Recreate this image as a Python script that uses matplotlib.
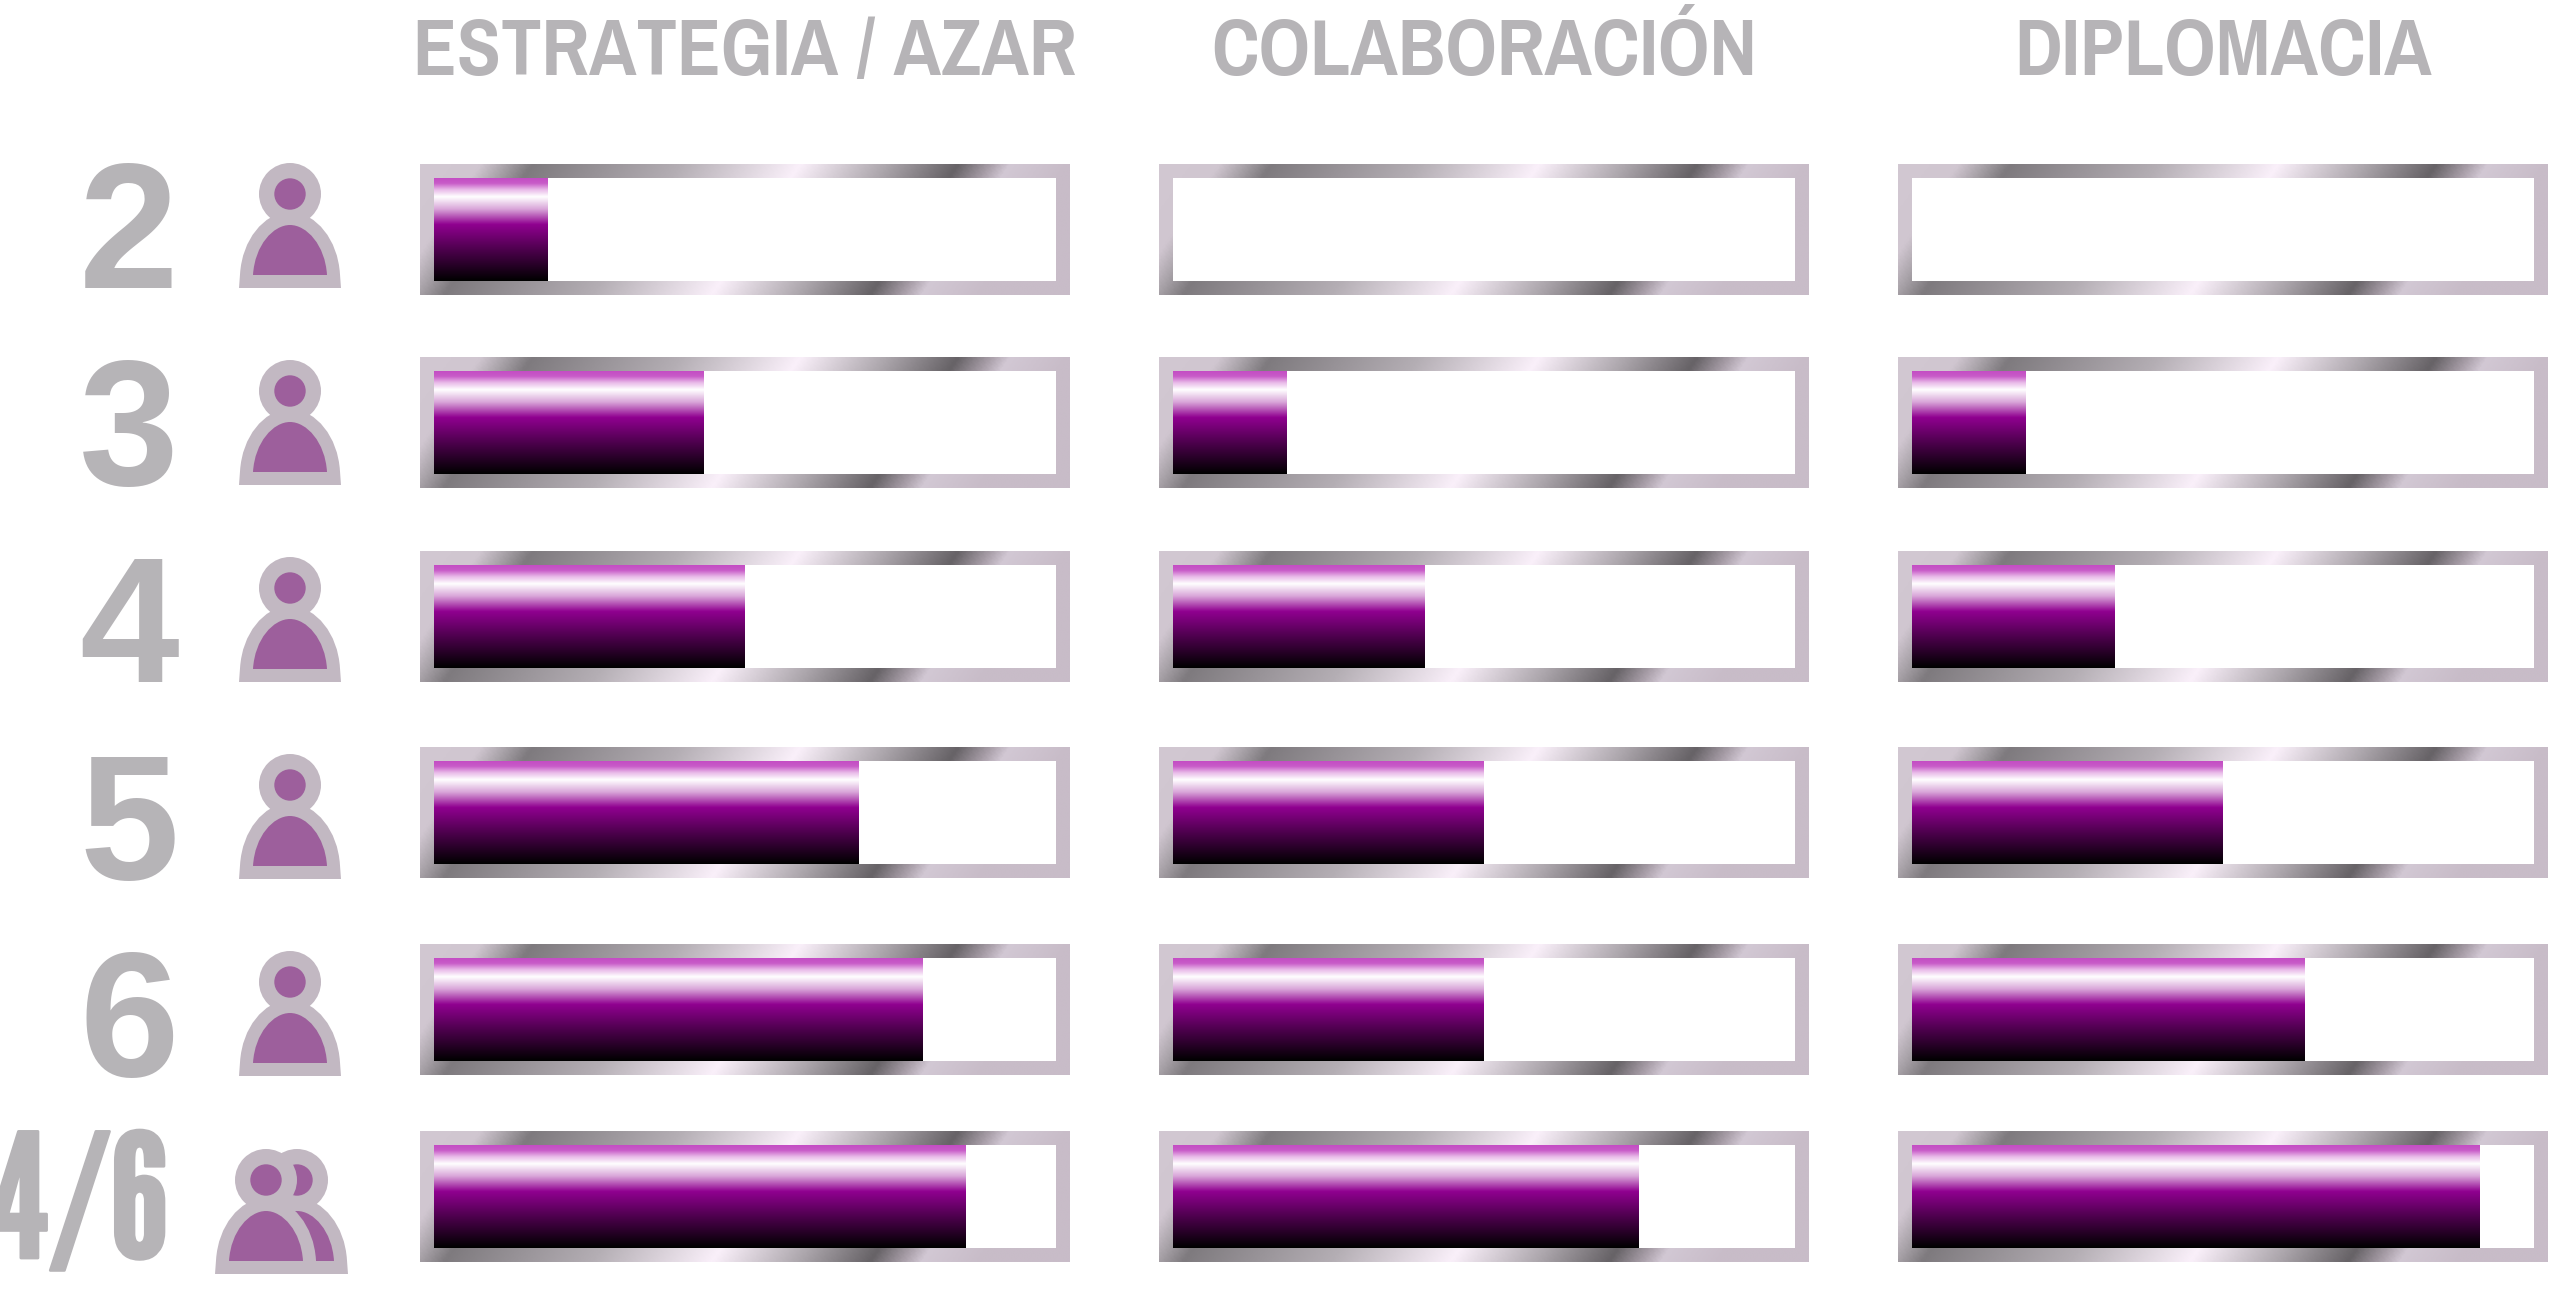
import numpy as np
import matplotlib
matplotlib.use("Agg")
import matplotlib.pyplot as plt
import matplotlib.patheffects as pe
from matplotlib.colors import LinearSegmentedColormap
from matplotlib.patches import Circle, PathPatch, Rectangle
from matplotlib.path import Path

headers = ["ESTRATEGIA / AZAR", "COLABORACIÓN", "DIPLOMACIA"]
players = ["2", "3", "4", "5", "6", "4/6"]
# percent of the bar length
estrategia = [18.2, 43.3, 49.9, 68.3, 78.6, 85.5]
colaboracion = [0, 18.2, 40.4, 49.9, 49.9, 74.9]
diplomacia = [0, 18.2, 32.5, 49.9, 63.1, 91.3]

W, H = 2570, 1295
GREY = "#b6b4b7"
OUTLINE = "#c2b8c2"
PURPLE = "#9d5f9c"
NARROW = ["Pragati Narrow", "Liberation Sans"]

col_left = [420, 1159, 1898]
frame_w = 650
row_top = [164, 357, 551, 747, 944, 1131]
icon_bottom = [288, 485, 682, 879, 1076]
frame_h = 131
border = 14

bar_cmap = LinearSegmentedColormap.from_list("bar", [
    (0, "#c44cc4"), (0.05, "#c85cc8"), (0.11, "#e8b8e8"), (0.18, "#ffffff"), (0.3, "#d9a6d9"),
    (0.45, "#900090"), (0.7, "#4c004c"), (1, "#000000")])
frame_cmap = LinearSegmentedColormap.from_list("frame", [
    (0, "#d2c8d2"), (0.09, "#d0c6d0"), (0.13, "#a8a2a8"), (0.17, "#7e7a7e"),
    (0.4, "#b4aeb4"), (0.585, "#faf0fa"), (0.72, "#aca6ac"), (0.83, "#666266"),
    (0.88, "#a89ea8"), (0.91, "#d2c8d4"), (1, "#c8bcc8")])

fig = plt.figure(figsize=(W / 100, H / 100), dpi=100, facecolor="white")
ax = fig.add_axes([0, 0, 1, 1])
ax.set_xlim(0, W)
ax.set_ylim(H, 0)
ax.axis("off")

u, v = np.meshgrid(np.linspace(0, 1, 400), np.linspace(0, 1, 80))
frame_img = u + 0.135 * v
ramp = np.linspace(0, 1, 256).reshape(-1, 1)


def body(cx, base, w, h):
    return Path(
        [(cx - w, base), (cx - w * 0.95, base - h * 0.6), (cx - w * 0.45, base - h), (cx, base - h),
         (cx + w * 0.45, base - h), (cx + w * 0.95, base - h * 0.6), (cx + w, base), (cx - w, base)],
        [Path.MOVETO, Path.CURVE4, Path.CURVE4, Path.CURVE4, Path.CURVE4, Path.CURVE4, Path.CURVE4, Path.CLOSEPOLY])


def person(cx, bottom, z=3):
    shape = body(cx, bottom - 13, 37, 50)
    ax.add_patch(PathPatch(shape, fc=OUTLINE, ec=OUTLINE, lw=26 * 0.72, joinstyle="miter", zorder=z))
    ax.add_patch(Circle((cx, bottom - 94), 31, fc=OUTLINE, ec="none", zorder=z))
    ax.add_patch(PathPatch(shape, fc=PURPLE, ec="none", zorder=z))
    ax.add_patch(Circle((cx, bottom - 94), 15.7, fc=PURPLE, ec="none", zorder=z))


# headers
header_x = [745, 1484, 2223]
for x, label in zip(header_x, headers):
    ax.text(x, 75, label, ha="center", va="baseline", color=GREY, fontsize=63,
            family=NARROW, fontweight="bold")

# bars
for c, values in enumerate([estrategia, colaboracion, diplomacia]):
    for r, value in enumerate(values):
        x0, y0 = col_left[c], row_top[r]
        ax.imshow(frame_img, cmap=frame_cmap, vmin=0, vmax=1, aspect="auto", interpolation="bilinear",
                  extent=[x0, x0 + frame_w, y0 + frame_h, y0], zorder=1)
        ax.add_patch(Rectangle((x0 + border, y0 + border), frame_w - 2 * border, frame_h - 2 * border,
                               fc="white", ec="none", zorder=1.5))
        cell = fig.add_axes([(x0 + border) / W, 1 - (y0 + frame_h - border) / H,
                             (frame_w - 2 * border) / W, (frame_h - 2 * border) / H], zorder=2)
        cell.patch.set_alpha(0)
        if value > 0:
            cell.imshow(ramp, cmap=bar_cmap, aspect="auto", extent=[0, value, 0, 1], interpolation="bilinear")
        cell.set_xlim(0, 100)
        cell.set_ylim(0, 1)
        cell.axis("off")
ax.set_xlim(0, W)
ax.set_ylim(H, 0)

# row labels and icons
for r, label in enumerate(players[:-1]):
    ax.text(129, icon_bottom[r], label, ha="center", va="baseline", color=GREY, fontsize=129,
            family="Liberation Sans", fontweight="bold")
    person(290, icon_bottom[r])

ax.text(169, 1258, players[-1], ha="right", va="baseline", color=GREY, fontsize=124,
        family=["League Gothic", "Anton", "Liberation Sans"],
        path_effects=[pe.withStroke(linewidth=2, foreground=GREY)])
person(297, 1274, z=3)
person(266, 1274, z=4)

fig.savefig("out.png", dpi=100)
